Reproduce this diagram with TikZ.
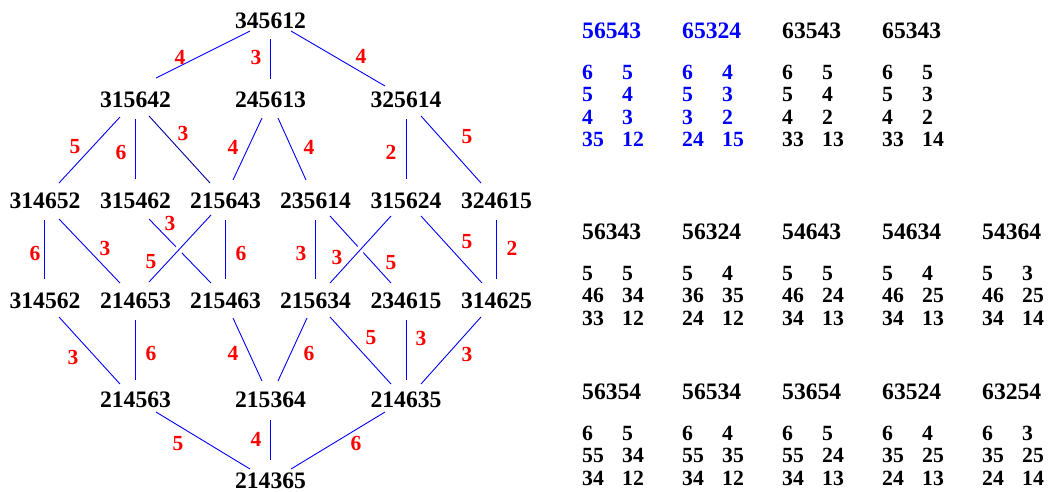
\documentclass[tikz,border=0pt]{standalone}
\usepackage{fontspec}
\setmainfont{Liberation Serif}
\usetikzlibrary{calc}
\tikzset{
  v/.style={inner sep=0pt, font=\fontsize{23.6}{26}\selectfont\bfseries},
  e/.style={blue, line width=0.9pt},
  ov/.style={preaction={draw=white, line width=8pt}},
  dk/.style={draw=blue!60!black},
  lab/.style={red, inner sep=0pt, font=\fontsize{21.5}{24}\selectfont\bfseries},
  hd/.style={inner sep=0pt, anchor=west, font=\fontsize{23.6}{26}\selectfont\bfseries},
  tx/.style={inner sep=0pt, anchor=west, font=\fontsize{21.7}{24}\selectfont\bfseries}
}
\newcommand\conn[7][]{\draw[e,#1] ($(#2)+(#3)$) -- ($(#4)+(#5)$) node[lab] at (#6) {#7};}
\newcommand\ptab[5]{%
  \node[hd,#3] (h#4) at (#1,#2) {#4};
  \foreach \a/\b [count=\i] in {#5}{
    \node[tx,#3] (r#4-\i-a) at ($(#1,#2)+(0,18.5+22.5*\i)$) {\a};
    \node[tx,#3] (r#4-\i-b) at ($(#1,#2)+(40,18.5+22.5*\i)$) {\b};
  }}
\begin{document}
\begin{tikzpicture}[x=1pt,y=-1pt]
\useasboundingbox (0,0) rectangle (1048,491);
% lattice nodes
\node[v] (n0) at (270.5,21) {345612};
\node[v] (a1) at (135.5,100) {315642};
\node[v] (a2) at (270.5,100) {245613};
\node[v] (a3) at (406,100) {325614};
\node[v] (b1) at (45,201) {314652};
\node[v] (b2) at (135.5,201) {315462};
\node[v] (b3) at (225.5,201) {215643};
\node[v] (b4) at (315.5,201) {235614};
\node[v] (b5) at (406,201) {315624};
\node[v] (b6) at (496.5,201) {324615};
\node[v] (c1) at (45,301) {314562};
\node[v] (c2) at (135.5,301) {214653};
\node[v] (c3) at (225.5,301) {215463};
\node[v] (c4) at (315.5,301) {215634};
\node[v] (c5) at (406,301) {234615};
\node[v] (c6) at (496.5,301) {314625};
\node[v] (d1) at (135.5,400) {214563};
\node[v] (d2) at (270.5,400) {215364};
\node[v] (d3) at (406,400) {214635};
\node[v] (f)  at (270.5,481) {214365};
% connectors
\conn{n0}{-20.5,10}{a1}{20.5,-22}{180,57}{4}
\conn{n0}{0,18}{a2}{0,-21}{256,57}{3}
\conn{n0}{20.5,10}{a3}{-21,-14}{361,56}{4}
\conn{a1}{-15.5,17}{b1}{14,-18}{75,147}{5}
\conn{a1}{0,19}{b2}{0,-22}{121,152}{6}
\conn[dk]{a1}{13.5,16}{b3}{-15.5,-18}{183,133}{3}
\conn{a2}{-8.5,18}{b3}{7.5,-21}{233,147}{4}
\conn{a2}{7.5,18}{b4}{-9.5,-21}{309,147}{4}
\conn{a3}{0,19}{b5}{0,-22}{391,152}{2}
\conn{a3}{15,16}{b6}{-15.5,-18}{467,137}{5}
\conn{b1}{-1,19}{c1}{-1,-22}{35,253}{6}
\conn{b1}{14,18}{c2}{-15.5,-18}{105,248}{3}
\conn{b2}{13.5,18}{c3}{-14.5,-18}{170,223}{3}
\conn[ov]{b3}{-14.5,14}{c2}{13.5,-19}{151,262}{5}
\conn{b3}{-0.5,19}{c3}{-0.5,-22}{241,253}{6}
\conn{b4}{-0.5,19}{c4}{-0.5,-22}{301,253}{3}
\conn{b4}{14.5,15}{c5}{-15,-18}{391,263}{5}
\conn[ov]{b5}{-15,15}{c4}{14.5,-18}{337,257}{3}
\conn{b5}{15,15}{c6}{-14.5,-18}{467,242}{5}
\conn{b6}{-0.5,19}{c6}{-0.5,-22}{512,248}{2}
\conn{c1}{14,16}{d1}{-15.5,-16}{73,357}{3}
\conn{c2}{-0.5,19}{d1}{-0.5,-20}{151,353}{6}
\conn{c3}{7.5,17}{d2}{-8.5,-19}{233,353}{4}
\conn{c4}{-8.5,17}{d2}{7.5,-19}{309,353}{6}
\conn{c4}{14.5,16}{d3}{-15,-16}{371,338}{5}
\conn{c5}{0,19}{d3}{0,-20}{421,338}{3}
\conn{c6}{-15.5,16}{d3}{15,-16}{467,354}{3}
\conn{d1}{20.5,12}{f}{-20.5,-12}{178,444}{5}
\conn{d2}{-0.5,20}{f}{-0.5,-21}{256,439}{4}
\conn{d3}{-21,12}{f}{20.5,-12}{356,443}{6}
% tables
\ptab{582}{31}{blue}{56543}{6/5,5/4,4/3,35/12}
\ptab{682}{31}{blue}{65324}{6/4,5/3,3/2,24/15}
\ptab{782}{31}{black}{63543}{6/5,5/4,4/2,33/13}
\ptab{882}{31}{black}{65343}{6/5,5/3,4/2,33/14}
\ptab{582}{232}{black}{56343}{5/5,46/34,33/12}
\ptab{682}{232}{black}{56324}{5/4,36/35,24/12}
\ptab{782}{232}{black}{54643}{5/5,46/24,34/13}
\ptab{882}{232}{black}{54634}{5/4,46/25,34/13}
\ptab{982}{232}{black}{54364}{5/3,46/25,34/14}
\ptab{582}{392}{black}{56354}{6/5,55/34,34/12}
\ptab{682}{392}{black}{56534}{6/4,55/35,34/12}
\ptab{782}{392}{black}{53654}{6/5,55/24,34/13}
\ptab{882}{392}{black}{63524}{6/4,35/25,24/13}
\ptab{982}{392}{black}{63254}{6/3,35/25,24/14}
\end{tikzpicture}
\end{document}
